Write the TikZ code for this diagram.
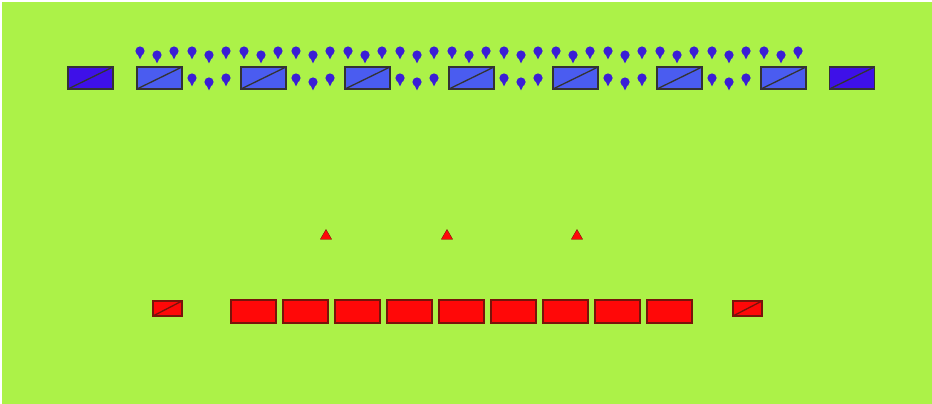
\documentclass[tikz,border=0pt]{standalone}
\usepackage{xcolor}
\usetikzlibrary{shapes.geometric,positioning}

\definecolor{field}{RGB}{172,242,72}
\definecolor{bluelight}{RGB}{74,92,240}
\definecolor{bluedark}{RGB}{62,16,232}
\definecolor{pinblue}{RGB}{58,30,214}
\definecolor{redunit}{RGB}{255,8,8}
\definecolor{redline}{RGB}{120,20,10}

\begin{document}
\begin{tikzpicture}[
    x=1pt, y=-1pt,
    unitbox/.style={draw, line width=1.3pt, inner sep=0pt, minimum width=45pt, minimum height=22pt,
        path picture={\draw[line width=1.3pt] (path picture bounding box.south west) -- (path picture bounding box.north east);}},
    blueunit/.style={unitbox, draw=black!80, fill=bluelight},
    blueflank/.style={unitbox, draw=black!80, fill=bluedark},
    redbig/.style={draw=redline, line width=1.3pt, fill=redunit, inner sep=0pt, minimum width=45pt, minimum height=23pt},
    redflank/.style={unitbox, draw=redline, fill=redunit, minimum width=29pt, minimum height=15pt},
    marker/.style={regular polygon, regular polygon sides=3, draw=redline, fill=redunit, inner sep=0pt, minimum size=13pt},
]
% background
\fill[white] (0,0) rectangle (932,404);
\fill[field] (2,2) rectangle (932,404);

% blue line
\node[blueflank] (bl) at (90.5,78) {};
\node[blueflank] (br) at (852,78) {};
\foreach \i in {0,...,6}
  \node[blueunit] (b\i) at (159.5+104*\i,78) {};

% blue skirmishers, front row
\foreach \g in {0,...,12}
  \foreach \o/\h in {0/51,17/55,34/51} {
    \fill[pinblue] (140+52*\g+\o,\h) circle (4.6);
    \fill[pinblue] (137+52*\g+\o,\h+2) -- (143+52*\g+\o,\h+2) -- (140+52*\g+\o,\h+8.5) -- cycle;
  }
% blue skirmishers between the boxes
\foreach \g in {1,3,...,11}
  \foreach \o/\h in {0/78,17/82,34/78} {
    \fill[pinblue] (140+52*\g+\o,\h) circle (4.6);
    \fill[pinblue] (137+52*\g+\o,\h+2) -- (143+52*\g+\o,\h+2) -- (140+52*\g+\o,\h+8.5) -- cycle;
  }

% red markers
\node[marker] (m1) at (326,236) {};
\node[marker] (m2) at (447,236) {};
\node[marker] (m3) at (577,236) {};

% red line
\node[redflank] (rl) at (167.5,308.5) {};
\node[redflank] (rr) at (747.5,308.5) {};
\foreach \i in {0,...,8}
  \node[redbig] (r\i) at (253.5+52*\i,311.5) {};
\end{tikzpicture}
\end{document}
